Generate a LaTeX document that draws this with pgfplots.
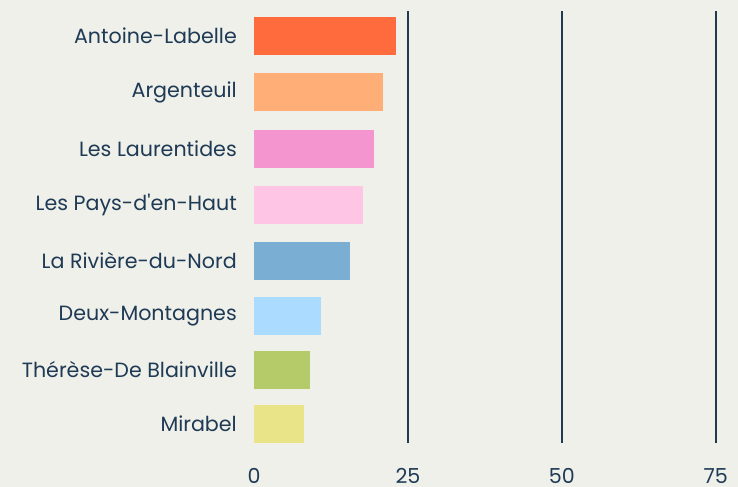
\documentclass[border=0pt]{standalone}
\usepackage{pgfplots}
\pgfplotsset{compat=1.18}
\usepackage{fontspec}
\setmainfont{Poppins}[Ligatures=TeXOff]
\definecolor{bg}{HTML}{EFF0EA}
\definecolor{navy}{HTML}{1F3A55}
\definecolor{c1}{HTML}{FF6B3D}
\definecolor{c2}{HTML}{FFAE78}
\definecolor{c3}{HTML}{F595D0}
\definecolor{c4}{HTML}{FEC5E5}
\definecolor{c5}{HTML}{7AAFD3}
\definecolor{c6}{HTML}{ABDCFF}
\definecolor{c7}{HTML}{B5CB6A}
\definecolor{c8}{HTML}{E9E487}
\begin{document}
\begin{tikzpicture}
\fill[bg, use as bounding box] (0,0) rectangle (738bp,487bp);
\begin{axis}[
  at={(254bp,44bp)}, anchor=south west,
  scale only axis, width=484bp, height=432bp,
  xmin=0, xmax=78.6, ymin=44, ymax=476,
  axis line style={draw=none},
  xbar, bar width=38, bar shift=0pt,
  xtick={25,50,75},
  xmajorgrids,
  major grid style={draw=navy, line width=1.4bp},
  extra x ticks={0},
  extra x tick style={grid=none},
  ytick={63,117,171,226,282,338,395,451},
  yticklabels={Mirabel,Thérèse-De Blainville,Deux-Montagnes,La Rivière-du-Nord,Les Pays-d'en-Haut,Les Laurentides,Argenteuil,Antoine-Labelle},
  major tick length=0pt,
  /pgf/number format/assume math mode=true,
  tick label style={font=\fontsize{20.7}{24}\selectfont, text=navy, inner sep=0pt},
  yticklabel style={anchor=east, xshift=-17bp},
  xticklabel style={anchor=north, yshift=-25bp},
]
\addplot[fill=c1, draw=none] coordinates {(23.1,451)};
\addplot[fill=c2, draw=none] coordinates {(21.0,395)};
\addplot[fill=c3, draw=none] coordinates {(19.5,338)};
\addplot[fill=c4, draw=none] coordinates {(17.75,282)};
\addplot[fill=c5, draw=none] coordinates {(15.6,226)};
\addplot[fill=c6, draw=none] coordinates {(10.9,171)};
\addplot[fill=c7, draw=none] coordinates {(9.1,117)};
\addplot[fill=c8, draw=none] coordinates {(8.1,63)};
\end{axis}
\end{tikzpicture}
\end{document}
